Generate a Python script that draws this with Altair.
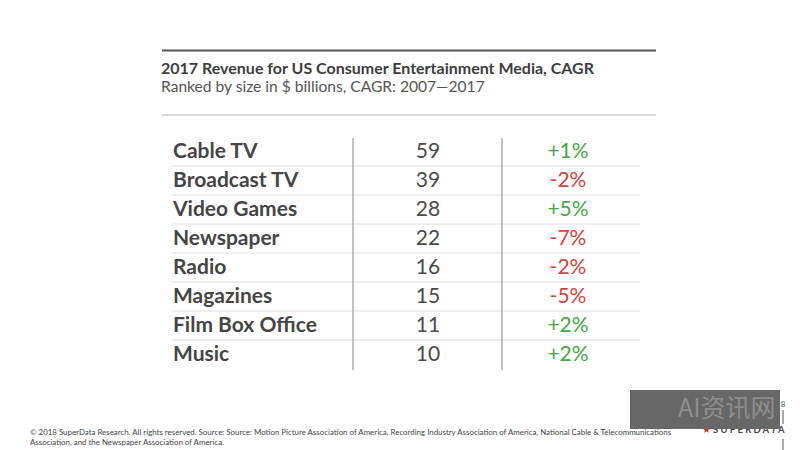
import altair as alt
import pandas as pd

# ---- data ----
media = ["Cable TV", "Broadcast TV", "Video Games", "Newspaper", "Radio",
         "Magazines", "Film Box Office", "Music"]
revenue = [59, 39, 28, 22, 16, 15, 11, 10]
cagr = [1, -2, 5, -7, -2, -5, 2, 2]

title_text = "2017 Revenue for US Consumer Entertainment Media, CAGR"
subtitle_text = "Ranked by size in $ billions, CAGR: 2007\u20142017"
footer_line1 = ("\u00a9 2018 SuperData Research. All rights reserved. Source: Source: Motion Picture "
                "Association of America, Recording Industry Association of America, National Cable & "
                "Telecommunications")
footer_line2 = "Association, and the Newspaper Association of America."

df = pd.DataFrame({
    "media": media,
    "revenue": revenue,
    "cagr": cagr,
})
df["cagr_label"] = [("+" if v > 0 else "-") + f"{abs(v)}%" for v in cagr]
df["sign"] = ["pos" if v > 0 else "neg" for v in cagr]

FONT = "Lato"
W, H = 784, 442

yscale = alt.Scale(domain=media, range=[129, 361], paddingInner=0, paddingOuter=0)
Y = alt.Y("media:N", scale=yscale, axis=None, sort=media)

base = alt.Chart(df)

labels = base.mark_text(align="left", baseline="middle", font=FONT, fontSize=21,
                        fontWeight=700, color="#454545").encode(
    x=alt.value(165), y=Y, text="media:N")

values = base.mark_text(align="center", baseline="middle", font=FONT, fontSize=21,
                        fontWeight=400, color="#4a4a4a").encode(
    x=alt.value(420), y=Y, text="revenue:Q")

cagrs = base.mark_text(align="center", baseline="middle", font=FONT, fontSize=21,
                       fontWeight=400).encode(
    x=alt.value(560), y=Y, text="cagr_label:N",
    color=alt.Color("sign:N", scale=alt.Scale(domain=["pos", "neg"],
                                              range=["#45a845", "#d2433c"]),
                    legend=None))

seps = base.transform_filter(alt.datum.media != media[0]).mark_rule(
    color="#dcdcdc", strokeWidth=1).encode(
    x=alt.value(164), x2=alt.value(632),
    y=alt.Y("media:N", scale=yscale, axis=None, sort=media, bandPosition=0))

one = pd.DataFrame({"t": [0]})
vline1 = alt.Chart(one).mark_rule(color="#9a9a9a", strokeWidth=1.2).encode(
    x=alt.value(345), y=alt.value(130), y2=alt.value(362))
vline2 = alt.Chart(one).mark_rule(color="#9a9a9a", strokeWidth=1.2).encode(
    x=alt.value(494), y=alt.value(130), y2=alt.value(362))

top_rule = alt.Chart(one).mark_rule(color="#555555", strokeWidth=2).encode(
    x=alt.value(154), x2=alt.value(648), y=alt.value(42.5))
sub_rule = alt.Chart(one).mark_rule(color="#cfcfcf", strokeWidth=1.5).encode(
    x=alt.value(154), x2=alt.value(648), y=alt.value(107))

title = alt.Chart(pd.DataFrame({"t": [title_text]})).mark_text(
    align="left", baseline="alphabetic", font=FONT, fontSize=16, fontWeight=700,
    color="#3d3d3d").encode(x=alt.value(153), y=alt.value(66), text="t:N")
subtitle = alt.Chart(pd.DataFrame({"t": [subtitle_text]})).mark_text(
    align="left", baseline="alphabetic", font=FONT, fontSize=15.6, fontWeight=400,
    color="#555555").encode(x=alt.value(153), y=alt.value(84), text="t:N")

footer1 = alt.Chart(pd.DataFrame({"t": [footer_line1]})).mark_text(
    align="left", baseline="alphabetic", font=FONT, fontSize=7.9, color="#444444").encode(
    x=alt.value(22), y=alt.value(427), text="t:N")
footer2 = alt.Chart(pd.DataFrame({"t": [footer_line2]})).mark_text(
    align="left", baseline="alphabetic", font=FONT, fontSize=7.9, color="#444444").encode(
    x=alt.value(22), y=alt.value(437), text="t:N")

logo_star = alt.Chart(pd.DataFrame({"t": ["\u2605"]})).mark_text(
    align="left", baseline="alphabetic", fontSize=10, color="#d0342c").encode(
    x=alt.value(694), y=alt.value(425), text="t:N")
logo = alt.Chart(pd.DataFrame({"t": ["S U P E R D A T A"]})).mark_text(
    align="left", baseline="alphabetic", font=FONT, fontSize=9.4, fontWeight=700,
    color="#444444").encode(
    x=alt.value(705), y=alt.value(425), text="t:N")

edge1 = alt.Chart(one).mark_rule(color="#555555", strokeWidth=1).encode(
    x=alt.value(775), y=alt.value(402), y2=alt.value(416))
edge2 = alt.Chart(one).mark_rule(color="#555555", strokeWidth=1).encode(
    x=alt.value(775), y=alt.value(431), y2=alt.value(442))
page_no = alt.Chart(pd.DataFrame({"t": ["18"]})).mark_text(
    align="left", baseline="middle", font=FONT, fontSize=8, color="#555555").encode(
    x=alt.value(768), y=alt.value(397), text="t:N")

wm_box = alt.Chart(one).mark_rect(fill="#676767", fillOpacity=1, opacity=1,
                                  strokeWidth=0).encode(
    x=alt.value(622), x2=alt.value(772), y=alt.value(382), y2=alt.value(421))
wm_text = alt.Chart(pd.DataFrame({"t": ["AI资讯网"]})).mark_text(
    align="left", baseline="middle", font="Noto Sans CJK SC", fontSize=25,
    color="#8e8e8e").encode(x=alt.value(670), y=alt.value(401), text="t:N")

chart = alt.layer(
    top_rule, sub_rule, title, subtitle, seps, vline1, vline2, labels, values, cagrs,
    footer1, footer2, logo_star, logo, edge1, edge2, page_no, wm_box, wm_text
).properties(
    width=W, height=H, autosize=alt.AutoSizeParams(type="none"), padding=0,
    background="white"
).configure_view(stroke=None)

chart.save("out.html", embed_options={"renderer": "svg", "actions": False})
